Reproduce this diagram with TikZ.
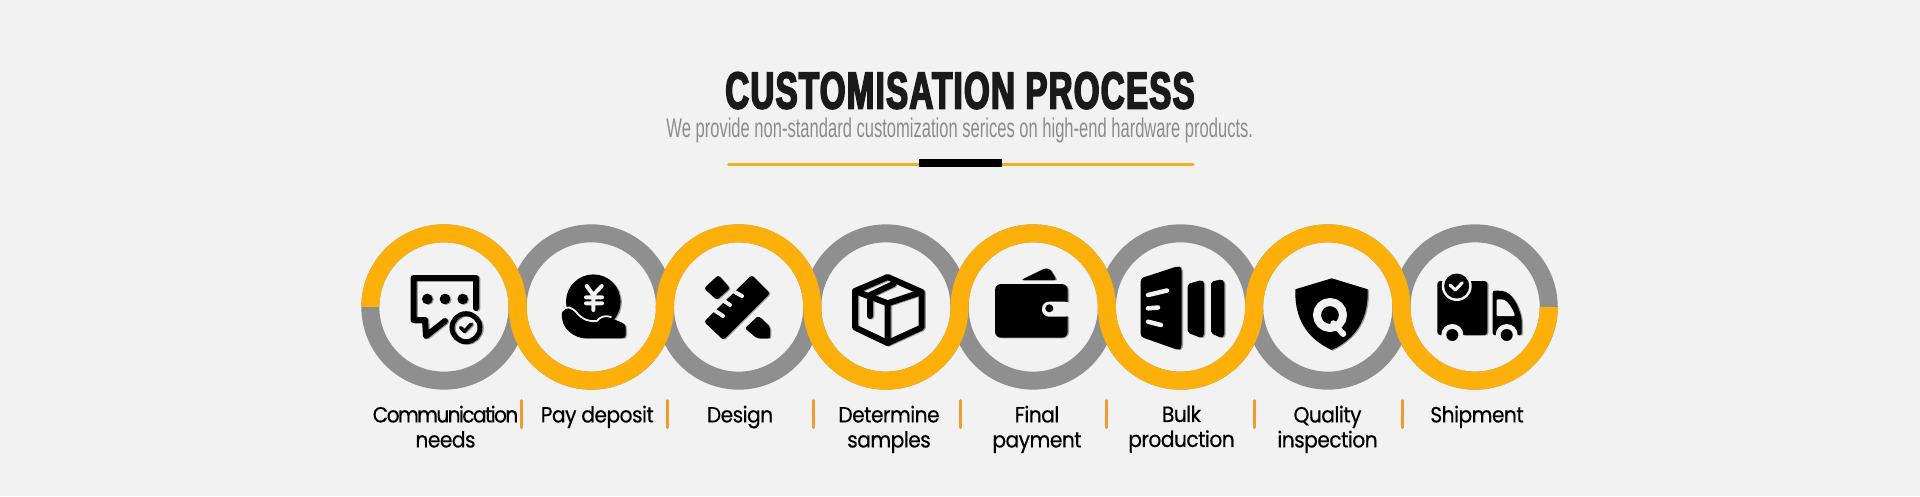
\documentclass[tikz,border=0pt]{standalone}
\usepackage{fontspec}
\newfontfamily\titlefont{Liberation Sans Bold}[FakeStretch=0.635,FakeBold=3.2,LetterSpace=2.5]
\newfontfamily\subfont{Liberation Sans}[FakeStretch=0.613]
\newfontfamily\labfont{Poppins}[FakeStretch=0.92,FakeBold=0.4,LetterSpace=-2.5]
\newfontfamily\labtightfont{Poppins}[FakeStretch=0.92,FakeBold=0.4,LetterSpace=-7.5]
\definecolor{pagebg}{HTML}{F2F2F2}
\definecolor{ringgray}{HTML}{8F8F8F}
\definecolor{ringyellow}{HTML}{FDB00A}
\definecolor{sepcolor}{HTML}{F39A2B}
\definecolor{rulecolor}{HTML}{F0B020}
\definecolor{titlecolor}{HTML}{1A1A1A}
\definecolor{subcolor}{HTML}{8C8C8C}
\definecolor{shadowgray}{HTML}{9A9A9A}
\colorlet{icfg}{black}
\colorlet{icbg}{pagebg}
\tikzset{
  ringgraystyle/.style={draw=ringgray,line width=18pt},
  wavestyle/.style={draw=ringyellow,line width=18pt,line cap=butt},
  sepstyle/.style={draw=sepcolor,line width=3pt,line cap=round},
  lab/.style={font=\labfont\fontsize{22}{25}\selectfont,align=center,anchor=north,inner sep=0pt,text=black},
  icline/.style={draw=icfg,line width=6pt,line join=round,line cap=round,fill=none},
  icfill/.style={fill=icfg,draw=none},
  ichole/.style={draw=icbg,line cap=round,line join=round,fill=none},
}
\newcommand{\drawicons}{%
  % 1 chat
  \draw[icline] (476,308) -- (476,278) -- (413.5,278) -- (413.5,320) -- (425,320) -- (426,336) -- (445,321);
  \fill[icfg] (427.3,299) circle[radius=5.3pt] (445,299) circle[radius=5.3pt] (462.7,299) circle[radius=5.3pt];
  \draw[icfg,line width=5pt] (466,327.7) circle[radius=14pt];
  \draw[icfg,line width=3.5pt,line cap=round,line join=round] (460.7,327.7) -- (464.3,331.3) -- (471.3,324);
  % 2 coin and hand
  \fill[icfg] (593.3,301.7) circle[radius=27.3pt];
  \draw[ichole,line width=4pt] (586.7,286) -- (593.3,295) -- (601.7,286) (586,297.3) -- (602,297.3) (586,303.3) -- (602,303.3) (593.3,295) -- (593.3,310);
  \draw[icfg,fill=icfg] (562.3,312) .. controls (566,306) and (572,308) .. (577,314) .. controls (583,321) and (590,323) .. (597,322) .. controls (600,318) and (604,316) .. (610,318) -- (622,323) .. controls (625,324) and (625.5,326) .. (625.5,329) -- (625.5,335) .. controls (625.5,337.5) and (624,338) .. (621,338) -- (586,338) .. controls (574,338) and (560,328) .. (562.3,312) -- cycle;
  \draw[ichole,line width=1.8pt] (562,311) .. controls (566,305) and (572,307) .. (577,313) .. controls (583,320) and (590,322) .. (597,321) .. controls (600,317) and (604,315) .. (611,317);
  % 3 ruler and pencil
  \fill[icfg,rounded corners=2.5pt] (704,288.3) -- (718.3,275) -- (730,288.3) -- (716.7,300) -- cycle;
  \fill[icfg,rounded corners=2pt] (745,328.3) -- (758.3,315.7) -- (770,326.7) -- (770,338.3) -- (756.7,338.3) -- cycle;
  \fill[icfg,rounded corners=2.5pt] (704,321.7) -- (751.7,275) -- (770,293.3) -- (723.3,340) -- cycle;
  \draw[ichole,line width=4pt] (714,310) -- (723,316) (724,301) -- (730,305) (733,291) -- (742,296);
  % 4 box
  \draw[icline] (887.7,277) -- (921.5,292) -- (921.5,327.5) -- (887.7,343) -- (855,327.5) -- (855,291) -- cycle;
  \draw[icline] (855,291) -- (887.7,303.3) -- (921.5,292) (887.7,303.3) -- (887.7,343);
  \draw[icline] (893.3,284) -- (870,295) -- (870,316);
  % 5 wallet
  \fill[icfg,rounded corners=2.5pt] (1021,280) -- (1045,268.3) -- (1050,269) -- (1056.7,280) -- cycle;
  \fill[icfg,rounded corners=6pt] (995,284) rectangle (1067.7,337.7);
  \fill[icbg,rounded corners=7pt] (1042,301.7) -- (1072,301.7) -- (1072,316.7) -- (1042,316.7) -- cycle;
  \fill[icfg] (1049.3,308.3) circle[radius=4pt];
  % 6 bulk
  \fill[icfg,rounded corners=3pt] (1140.7,278.3) -- (1178.3,266) -- (1181.7,268) -- (1181.7,348) -- (1178.3,350) -- (1140.7,336.7) -- cycle;
  \draw[ichole,line width=4.5pt] (1148,295) -- (1167,290.5) (1148,308.3) -- (1158,307.5) (1148,321.7) -- (1161,325);
  \fill[icfg,rounded corners=2pt] (1187.7,284) -- (1201.7,280) -- (1204,282) -- (1204,336) -- (1201.7,338) -- (1187.7,332.7) -- cycle;
  \fill[icfg,rounded corners=2pt] (1211,281.7) -- (1221.7,279.3) -- (1224.3,281.5) -- (1224.3,336) -- (1221.7,338) -- (1211,333.3) -- cycle;
  % 7 shield
  \fill[icfg] (1331.7,278.3) -- (1367.7,289.3) .. controls (1368.5,318) and (1357,338) .. (1331.7,350) .. controls (1306,338) and (1294.5,318) .. (1295.3,289.3) -- cycle;
  \draw[ichole,line width=8pt] (1330,315) circle[radius=13pt];
  \draw[ichole,line width=6pt] (1333.3,323.3) -- (1343.3,334);
  % 8 truck
  \fill[icfg,rounded corners=3pt] (1437.3,281) rectangle (1487.3,335);
  \fill[icbg] (1456.7,286) circle[radius=15pt];
  \fill[icfg] (1456.7,286) circle[radius=12.5pt];
  \draw[ichole,line width=3pt] (1450,285) -- (1455.3,290) -- (1462.3,282.7);
  \fill[icfg,rounded corners=2pt] (1492.7,290.7) -- (1500,290.7) .. controls (1512,292) and (1519,306) .. (1521.7,320) -- (1521.7,335) -- (1492.7,335) -- cycle;
  \fill[icbg,rounded corners=1pt] (1496.7,299.3) -- (1503,299.5) .. controls (1508,301) and (1513,309) .. (1515,316) -- (1496.7,316) -- cycle;
  \fill[icbg] (1452.3,335) circle[radius=11pt] (1506.7,335) circle[radius=11pt];
  \fill[icfg] (1452.3,335) circle[radius=6pt] (1506.7,335) circle[radius=6pt];
}
\begin{document}
\begin{tikzpicture}[x=1pt,y=-1pt]
\useasboundingbox (0,0) rectangle (1920,496);
\fill[pagebg] (0,0) rectangle (1920,496);
% heading
\node[anchor=base,inner sep=0pt,text=titlecolor,font=\titlefont\fontsize{52}{56}\selectfont] (title) at (960,108.5) {CUSTOMISATION PROCESS};
\node[anchor=base,inner sep=0pt,text=subcolor,font=\subfont\fontsize{27}{30}\selectfont] (subtitle) at (959.8,137.3) {We provide non-standard customization serices on high-end hardware products.};
\draw[rulecolor,line width=3pt,line cap=round] (728.5,164.3) -- (1193,164.3);
\fill[black] (918.9,159) rectangle (1001.9,167);
% rings
\foreach \cx in {444,591.3,738.6,885.9,1033.2,1180.5,1327.8,1475.1}
  \draw[ringgraystyle] (\cx,307) circle[radius=73.65pt];
\draw[wavestyle] (370.35,307)
  arc[start angle=180,end angle=0,radius=73.65pt]
  arc[start angle=180,end angle=360,radius=73.65pt]
  arc[start angle=180,end angle=0,radius=73.65pt]
  arc[start angle=180,end angle=360,radius=73.65pt]
  arc[start angle=180,end angle=0,radius=73.65pt]
  arc[start angle=180,end angle=360,radius=73.65pt]
  arc[start angle=180,end angle=0,radius=73.65pt]
  arc[start angle=180,end angle=360,radius=73.65pt];
% icons with soft edge
\begin{scope}[shift={(1.3,0.6)}]
  \colorlet{icfg}{shadowgray}
  \drawicons
\end{scope}
\drawicons
% labels
\node[lab] (lab1) at (445.5,405.5) {{\labtightfont\fontsize{22}{25}\selectfont Communication}\\needs};
\node[lab] (lab2) at (597.3,405.5) {Pay deposit};
\node[lab] (lab3) at (740,405.5) {Design};
\node[lab] (lab4) at (889,405.5) {Determine\\samples};
\node[lab] (lab5) at (1037,405.5) {Final\\payment};
\node[lab] (lab6) at (1181.5,405.5) {Bulk\\production};
\node[lab] (lab7) at (1327.5,405.5) {Quality\\inspection};
\node[lab] (lab8) at (1477,405.5) {Shipment};
% separators
\foreach \sx in {521.3,667.3,813.3,960,1106.3,1254.3,1402.3}
  \draw[sepstyle] (\sx,400.5) -- (\sx,427.5);
\end{tikzpicture}
\end{document}
